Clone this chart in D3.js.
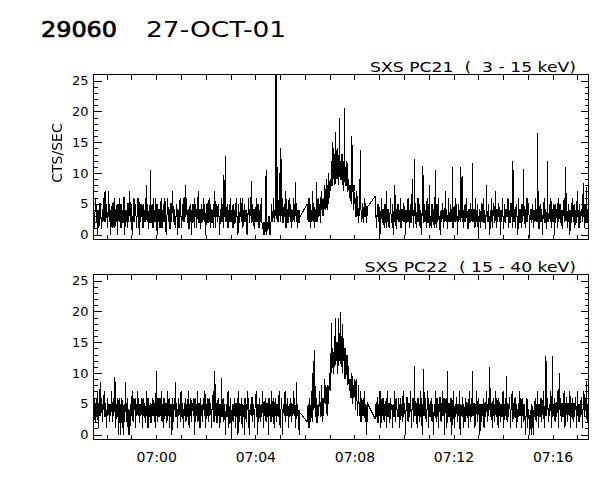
<!DOCTYPE html>
<html><head><meta charset="utf-8">
<script src="https://cdn.jsdelivr.net/npm/d3@7"></script>
<style>body{margin:0;background:#fff} text{font-family:"DejaVu Sans",sans-serif;fill:#000}</style>
</head><body><svg id="c" width="600" height="480"></svg>
<script>
// ---------------- data ----------------
const titleId = "29060";
const dateLabel = "27-OCT-01";
const panelLabels = ["SXS PC21  (  3 - 15 keV)", "SXS PC22  ( 15 - 40 keV)"];
const yLabel = "CTS/SEC";
const yMajorTicks = [0, 5, 10, 15, 20, 25];
const xTickLabels = ["07:00", "07:04", "07:08", "07:12", "07:16"];
const timeRange = ["2001-10-27T06:57:28Z", "2001-10-27T07:17:27Z"];
const segmentStarts = ["2001-10-27T06:57:28Z", "2001-10-27T07:06:06Z", "2001-10-27T07:08:50Z"];
const sampleSeconds = 1;

// SXS PC21 (3-15 keV), counts/sec, three contiguous data segments
const pc21A = [
5,4,1,3,4,6,5,2,3,4,0,3,4,1,2,5,5,3,3,1, 1,4,4,2,6,3,2,5,7,2,3,4,5,2,1,3,7,4,2,5,
4,2,0,3,3,5,5,1,2,4,6,3,1,4,4,2,3,5,0,2, 5,3,2,4,6,1,3,5,1,3,4,2,2,6,6,3,0,4,3,2,
4,3,1,5,5,2,3,4,7,3,2,5,4,1,0,3,3,2,6,4, 2,4,5,3,1,2,4,6,3,1,6,3,0,4,2,5,4,3,3,1,
5,3,1,4,3,2,6,4,8,3,2,5,4,1,1,3,3,5,10.5,2, 2,4,5,1,3,6,1,3,4,2,6,3,2,5,0,3,5,2,3,4,
4,1,2,5,6,3,1,4,3,2,5,4,2,6,4,1,0,3,3,5, 6,3,2,4,4,1,1,5,5,2,3,6,7,3,2,4,4,2,1,3,
3,4,5,2,0,3,4,1,2,5,6,3,3,2,1,4,5,3,2,6, 4,2,8,3,3,5,6,2,2,4,4,1,1,3,5,2,3,4,0,3,
4,5,2,3,6,1,3,4,5,2,1,3,3,6,7,2,2,4,4,1, 1,3,5,4,3,2,6,3,2,5,4,1,0,3,3,5,5,2,2,4,
6,2,3,5,1,4,4,2,2,3,5,1,3,4,7,2,1,5,4,3, 2,4,5,3,3,1,0,4,4,2,6,3,2,5,3,1,9.6,3,4,2,
12.8,3,2,4,5,1,3,4,1,5,4,2,6,3,2,4,3,1,5,3, 1,3,4,2,2,5,6,3,3,1,0,4,5,2,2,3,4,6,3,2,
6,3,1,4,3,2,5,4,2,3,4,1,0,3,3,5,6,2,2,4, 4,3,8.7,2,2,4,5,3,3,1,1,4,4,2,6,3,2,5,3,1,
5,3,1,4,3,2,6,3,2,1,1,2,0,1,2,0,1,2,10.5,1, 0,2,2,1,1,3,3,0,0,2,2,3,5,2,3,4,6,3,2,4,
3,30,30,30,3,2,11,4,2,3,10,3,4,2,14,5,3,4,6,2, 2,4,5,3,3,1,7,3,1,4,4,2,2,5,6,3,3,2,5,3,
1,3,4,2,6,3,2,4,5,3,8.5,2,3,4,1,3,4,2,2,4, 3,3];
const pc21B = [
5,3,2,4,6,2,3,5,1,3,4,2,7,3,2,5,5,1,3,4, 4,2,8.6,3,2,5,6,3,3,4,5,2,2,6,7,4,4,3,6,5,
3,6,8,4,5,7,9,5,4,8,7,5,10,6,6,9,9,7,12,8, 8,11,15,9,10,13,13,8,16.6,10,9,12,14,9,11,13,8,10,19,11,
12,9,9,13,13,8,10,12,7,9,20.6,10,11,8,8,10,12,7,7,9, 9,7,6,8,8,7,5,8,16,7,7,8,4,7,8,5,6,3,3,5,
7,4,5,2,2,4,6,3,13.8,5,4,2,3,5,5,2,2,4,6,3, 3,5,5,2,2,4,4.5];
const pc21C = [
6.2,4,3,2,1,4,5,3,2,5,4,1,0,3,3,5,6,2,2,4, 4,3,1,2,5,4,3,1,7,3,2,4,4,2,1,3,3,5,6,2,
2,3,5,2,0,3,4,2,8,3,3,1,1,4,5,3,2,5,4,2, 3,1,6,2,1,4,4,3,2,5,5,2,3,4,0,2,4,3,2,5,
6,2,3,4,1,3,5,2,2,4,9,3,4,1,2,5,12.2,3,3,2, 1,3,4,2,6,3,2,4,5,1,3,4,0,2,4,3,11.2,2,2,4,
5,2,3,4,1,3,6,2,2,5,4,1,8,3,3,2,1,4,5,3, 2,4,4,1,3,5,10.5,3,1,2,5,3,2,4,6,2,3,1,0,3,
4,3,2,5,5,2,1,4,3,2,7,3,2,4,4,1,1,3,6,2, 3,2,5,3,2,4,4,1,11,3,1,4,3,2,6,3,2,5,4,2,
0,3,5,2,3,4,2,5,11,3,4,2,9.5,3,1,4,3,2,5,3, 2,4,6,3,3,1,1,4,4,2,2,5,5,3,3,2,11.7,3,2,4,
4,2,1,3,6,2,3,4,5,2,0,3,2,4,4,3,1,5,5,2, 3,4,6,2,2,3,4,1,1,4,8,3,3,2,5,4,2,3,0,2,
4,2,6,3,1,4,3,5,5,2,2,3,7,2,1,4,4,2,3,5, 5,3,2,4,0,3,4,2,6,3,3,1,1,4,5,2,2,4,4,3,
3,5,6,2,1,3,4,2,2,5,5,3,3,1,12,3,2,4,4,2, 1,4,5,3,3,2,0,3,6,2,2,4,4,3,1,5,3,2,5,3,
10.6,3,3,2,1,4,4,2,6,3,2,5,5,3,-0.5,2,3,4,4,2, 2,4,5,3,1,4,3,2,6,3,2,4,4,2,16.5,3,3,1,1,4,
5,3,2,4,4,2,0,3,3,5,6,2,2,4,4,1,1,3,12,3, 3,2,5,4,2,3,6,3,1,4,4,2,3,5,0,3,5,2,2,4,
4,3,1,5,6,2,3,4,5,2,2,3,4,1,1,4,3,5,6,3, 2,4,11,3,4,2,1,3,5,2,3,4,0,3,4,2,2,5,6,3,
3,2,5,4,1,3,4,2,2,5,7,3,3,4,1,3,5,2,2,4, 4,3,6,2,8.4,3,3,5,1,4,5,2,7.8,3,2,4,4];

// SXS PC22 (15-40 keV), counts/sec
const pc22A = [
4,5,6,3,2,4,5,6,3,4,7,2,1,5,5,3,8.5,4,3,5, 6,3,2,5,4,6,7,3,3,5,5,2,1,4,6,3,4,5,2,4,
5,4,3,6,7,3,2,5,6,3,4,5,9.3,2,1,4,5,3,3,6, 0,4,6,2,2,5,0,3,4,6,1,4,0,3,5,2,3,5,8.5,3,
2,5,6,3,0,4,4,2,0,3,5,4,3,6,7,3,2,5,6,4, 4,6,1,4,5,3,7,4,3,5,6,2,2,5,4,3,5,6,1,4,
6,4,3,5,5,2,2,4,7,3,4,6,1,4,6,3,3,5,5,2, 2,5,4,3,6,4,3,5,5,2,1,4,10.4,3,4,6,2,5,6,3,
3,6,5,3,7,4,2,5,4,6,1,3,6,4,3,5,5,2,2,4, 7,3,4,6,1,4,5,3,3,5,0,4,6,3,2,5,5,4,8.6,3,
3,5,5,2,1,4,6,3,4,5,2,6,7,3,3,5,5,2,1,4, 4,3,6,5,2,4,5,3,3,6,7,2,1,5,4,3,6,4,2,5,
5,4,3,6,0,3,6,4,2,5,4,3,7,2,3,5,5,4,1,3, 6,3,4,5,2,4,5,6,3,4,7,3,1,4,5,3,4,6,2,5,
6,4,3,5,5,2,1,4,4,6,7,3,2,5,10.4,4,3,5,5,2, 2,5,6,3,4,5,1,3,5,4,9.2,3,3,5,6,4,2,5,4,3,
0,4,5,3,3,6,7,3,1,4,4,5,6,2,0,3,5,4,2,5, 4,3,6,4,1,5,5,3,3,6,0,4,7,3,2,5,4,3,6,4,
1,4,5,3,3,6,0,4,6,3,2,5,4,6,7,3,1,4,0,3, 5,4,3,6,6,3,2,5,4,3,1,4,5,6,7,3,3,5,0,4,
4,5,6,3,2,4,5,3,3,6,7,4,1,3,4,5,6,3,2,5, 5,3,3,6,0,4,6,3,4,5,2,4,7,3,3,6,5,2,1,4,
6,3,4,5,2,4,5,3,3,6,7,4,1,3,4,5,6,3,0,4, 5,4,3,6,7,3,2,5,4,3,6,4,1,4,5,3,3,5,6,4,
2,5,4,3,7,4,3,6,5,3,1,4,8.5,3,4,5,2,4,0,4, 3.5,3.5];
const pc22B = [
2,4,5,3,1,4,6,2,3,5,7,3,2,5,12,4,4,6,13.8,3, 3,5,6,2,2,4,5,3,4,6,7,3,3,5,8,4,2,5,6,3,
4,7,9,5,5,8,7,4,3,6,8,5,6,9,10,7,9,11,18.1,10, 11,14,14,10,10,13,16,11,18.9,12,12,15,15,10,10,14,18.9,12,13,16,
19.9,12,11,15,16,10,18,12,12,14,9,13,14,9,10,12,13,9,8,11, 11,8,7,9,9,6,6,8,10,7,5,8,8,6,7,9,4,7,9,6,
6,4,3,6,8,5,5,3,7,4,2,5,6,3,4,6,3,5,7,4, 2,4,5,3,0,4,5];
const pc22C = [
2.6,4,5,3,3,6,6,2,2,5,4,3,7,4,1,3,5,6,3,4, 6,3,2,5,4,3,5,6,1,4,7,3,3,5,5,2,2,4,6,4,
4,5,1,4,5,3,3,6,7,3,2,5,6,4,4,3,3,6,5,4, 1,4,6,3,4,5,2,4,7,3,3,5,5,2,0,4,4,6,6,3,
2,5,5,3,3,6,7,4,1,4,4,5,6,3,2,5,11.2,4,3,5, 5,3,1,4,6,3,4,5,2,4,7,3,3,6,0,4,5,3,10.6,4,
3,5,6,3,2,4,4,6,7,3,1,4,5,3,3,5,6,4,2,5, 4,3,0,4,5,3,7,4,2,5,6,3,3,5,1,4,4,6,6,3,
2,5,5,3,7,4,3,6,0,3,4,5,6,3,1,4,10.4,3,3,5, 5,4,2,5,6,3,0,4,4,6,7,3,1,4,5,3,3,6,6,4,
2,5,4,3,7,4,0,3,5,4,3,6,6,3,1,5,4,3,2,5, 6,4,3,5,5,3,1,4,7,3,4,5,2,4,6,3,10.4,4,3,5,
5,3,1,4,4,6,7,3,2,5,6,4,3,5,0,3,5,4,2,5, 4,3,6,4,1,5,5,3,3,6,7,4,2,5,4,3,6,4,10.9,3,
3,5,5,3,1,4,6,3,4,5,2,4,7,3,3,6,5,4,1,4, 6,3,4,5,2,4,5,3,3,6,7,4,1,5,4,3,6,4,9.5,3,
2,5,5,3,3,6,6,4,1,4,4,5,7,3,2,5,5,3,3,6, 6,4,1,5,4,3,2,5,5,3,7,4,3,6,1,4,6,3,4,5,
2,4,5,3,0,3,3,5,6,2,1,4,4,3,0,2,2,4,0,3, 5,3,1,4,0,3,3,5,6,4,2,5,4,3,7,4,1,4,5,3,
3,5,6,3,2,5,4,6,7,3,1,4,5,3,12.8,4,3,5,6,4, 2,4,5,3,4,6,7,3,1,4,12.7,5,4,3,6,4,2,5,5,3,
3,6,7,4,1,4,10,5,4,3,6,4,2,5,5,3,3,6,7,4, 1,4,4,6,6,3,2,5,5,4,3,6,7,3,1,4,4,5,6,3,
2,5,5,3,3,6,6,4,1,4,7,3,4,5,2,4,5,3,3,6, 6,4,1,4,4,5,7,3,3,6,5,4,8.7,3,2,5,4];

const panels = [
  {label: panelLabels[0], segments: [pc21A, pc21B, pc21C]},
  {label: panelLabels[1], segments: [pc22A, pc22B, pc22C]}
];

// ---------------- layout ----------------
const svg = d3.select("#c");
svg.append("defs").append("filter").attr("id", "gray")
  .append("feColorMatrix").attr("type", "saturate").attr("values", 0);
const L = 93.5, R = 588.5, H = 165, tops = [74.5, 274.5];
const x = d3.scaleUtc().domain(timeRange.map(s => new Date(s))).range([L, R]);
const yDomain = [-0.8, 26];
const parseHM = d3.utcParse("%H:%M");
const xMajor = xTickLabels.map(s => { const t = parseHM(s); return new Date(Date.UTC(2001, 9, 27, t.getUTCHours(), t.getUTCMinutes())); });
const xMinor = d3.utcMinute.range(x.domain()[0], x.domain()[1]);
const yMinor = d3.range(0, 26, 1);

svg.append("text").attr("transform", "translate(41,37)").attr("font-size", 21)
  .attr("stroke", "#000").attr("stroke-width", 0.7)
  .attr("textLength", 76).attr("lengthAdjust", "spacingAndGlyphs").text(titleId);
svg.append("text").attr("transform", "translate(146,37) scale(1.26,1)").attr("font-size", 21)
  .text(dateLabel);

panels.forEach((p, pi) => {
  const top = tops[pi], bot = top + H;
  const y = d3.scaleLinear().domain(yDomain).range([bot, top]);
  const g = svg.append("g");
  const cid = "clip" + pi;
  svg.append("clipPath").attr("id", cid).append("rect").attr("x", L).attr("y", top).attr("width", R - L).attr("height", H);

  const line = d3.line().x(d => x(d.t)).y(d => y(d.v));
  p.segments.forEach((vals, si) => {
    const t0 = new Date(segmentStarts[si]).getTime();
    const pts = vals.map((v, i) => ({t: new Date(t0 + i * sampleSeconds * 1000), v}));
    // the original plot joins data gaps with a straight line
    if (si < p.segments.length - 1) {
      pts.push({t: new Date(segmentStarts[si + 1]), v: p.segments[si + 1][0]});
    }
    g.append("path").datum(pts).attr("d", line).attr("fill", "none").attr("stroke", "#000")
      .attr("stroke-width", 1).attr("shape-rendering", "crispEdges").attr("clip-path", `url(#${cid})`);
  });

  const axStyle = sel => { sel.select(".domain").remove(); sel.selectAll("line").attr("stroke", "#000").attr("shape-rendering", "crispEdges"); };
  svg.append("g").attr("transform", `translate(${L},0)`)
    .call(d3.axisLeft(y).tickValues(yMinor).tickSize(-4).tickFormat("")).call(axStyle);
  svg.append("g").attr("transform", `translate(${L},0)`)
    .call(d3.axisLeft(y).tickValues(yMajorTicks).tickSize(-8).tickPadding(5).tickFormat(d3.format("d"))).call(axStyle)
    .selectAll("text").attr("font-size", 13).attr("font-family", "DejaVu Sans").attr("fill", "#000");
  svg.append("g").attr("transform", `translate(${R},0)`)
    .call(d3.axisRight(y).tickValues(yMinor).tickSize(-4).tickFormat("")).call(axStyle);
  svg.append("g").attr("transform", `translate(${R},0)`)
    .call(d3.axisRight(y).tickValues(yMajorTicks).tickSize(-8).tickFormat("")).call(axStyle);
  svg.append("g").attr("transform", `translate(0,${top})`)
    .call(d3.axisTop(x).tickValues(xMinor).tickSize(-5).tickFormat("")).call(axStyle);
  svg.append("g").attr("transform", `translate(0,${bot})`)
    .call(d3.axisBottom(x).tickValues(xMinor).tickSize(-5).tickFormat("")).call(axStyle);
  if (pi === panels.length - 1) {
    svg.append("g").attr("transform", `translate(0,${bot})`)
      .call(d3.axisBottom(x).tickValues(xMajor).tickSize(-5).tickPadding(13).tickFormat(d3.utcFormat("%H:%M"))).call(axStyle)
      .selectAll("text").attr("font-size", 14).attr("font-family", "DejaVu Sans").attr("fill", "#000");
  }
  svg.append("rect").attr("x", L).attr("y", top).attr("width", R - L).attr("height", H)
    .attr("fill", "none").attr("stroke", "#000").attr("stroke-width", 1).attr("shape-rendering", "crispEdges");
  svg.append("text").attr("transform", `translate(576,${top - 3}) scale(1.23,1)`).attr("text-anchor", "end")
    .attr("font-size", 14).style("white-space", "pre").text(p.label);
  if (pi === 0) {
    svg.append("g").attr("filter", "url(#gray)")
      .append("text").attr("transform", `translate(61.5,${(top + bot) / 2 - 4}) rotate(-90)`)
      .attr("text-anchor", "middle").attr("font-size", 14).text(yLabel);
  }
});
</script></body></html>
